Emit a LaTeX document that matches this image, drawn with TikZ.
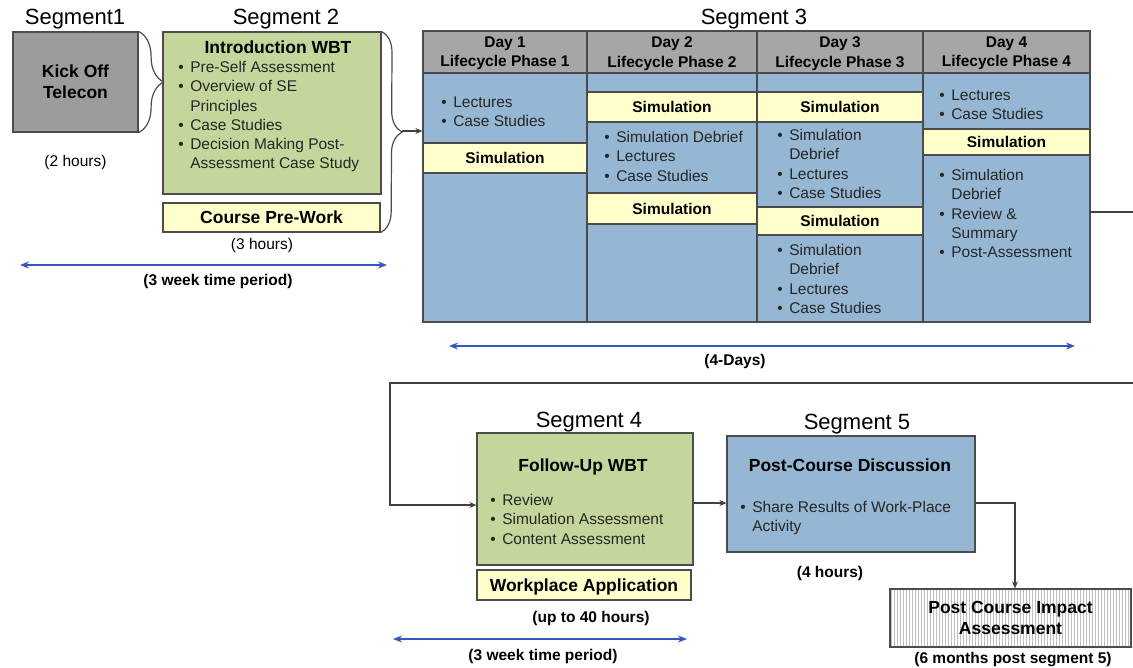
\documentclass[tikz,border=0pt]{standalone}
\usepackage{fontspec}
\setmainfont{Liberation Sans}
\usetikzlibrary{positioning,decorations.pathreplacing,patterns,arrows.meta}
\definecolor{kogray}{RGB}{156,156,156}
\definecolor{hdgray}{RGB}{166,166,166}
\definecolor{wbtgreen}{RGB}{196,214,155}
\definecolor{dayblue}{RGB}{149,183,211}
\definecolor{simyellow}{RGB}{255,255,204}
\definecolor{spanblue}{RGB}{52,86,190}
\newcommand{\blist}[1]{\begin{tabular}[t]{@{}l@{}l@{}}#1\end{tabular}}
\newcommand{\bi}{\hbox to 12pt{\textbullet\hss}&}

\begin{document}
\begin{tikzpicture}[x=1pt,y=-1pt,>={Stealth[length=7pt,width=6pt]},semithick,
  box/.style={rectangle,draw=black!70,line width=1.2pt,inner sep=0pt},
  ttl/.style={font=\fontsize{22}{26}\selectfont,text depth=0pt},
  head/.style={font=\fontsize{17.5}{21}\selectfont\bfseries,align=center,text depth=0pt},
  bold/.style={font=\fontsize{15.5}{19.25}\selectfont\bfseries,align=center,text depth=0pt},
  note/.style={font=\fontsize{15.5}{19}\selectfont,text depth=0pt},
  lst/.style={font=\fontsize{15.5}{19.25}\selectfont,text=black!85,inner sep=0pt,anchor=base west},
  span/.style={{Stealth[length=9pt,width=7pt]}-{Stealth[length=9pt,width=7pt]},draw=spanblue,line width=1.5pt},
  conn/.style={->,draw=black!75,line width=1.2pt},
  brc/.style={draw=black!70,line width=1.2pt,decorate,decoration={brace,amplitude=#1}}]
\useasboundingbox (0,0) rectangle (1133,667);

\node[ttl] (t1) at (75,17) {Segment1};
\node[ttl] (t2) at (286,17) {Segment 2};
\node[ttl] (t3) at (754,17) {Segment 3};
\node[ttl] (t4) at (589,420) {Segment 4};
\node[ttl] (t5) at (857,422) {Segment 5};

\node[box,fill=kogray,head,minimum width=125,minimum height=100] (ko) at (75.5,82) {Kick Off\\Telecon};
\node[note,below=19pt of ko] (koh) {(2 hours)};

\node[box,fill=wbtgreen,minimum width=218,minimum height=162] (wbt) at (272,113) {};
\node[head] (wbth) at (278,47) {Introduction WBT};
\node[lst] (wbtl) at (178,72.5) {\blist{\bi Pre-Self Assessment\\ \bi Overview of SE\\ & Principles\\ \bi Case Studies\\ \bi Decision Making Post-\\ & Assessment Case Study}};
\node[box,fill=simyellow,head,minimum width=217,minimum height=29] (pw) at (271.5,217.5) {Course Pre-Work};
\node[note] (pwh) at (262,244) {(3 hours)};

\draw[brc=25] (ko.north east) -- (ko.south east);
\draw[brc=21] (wbt.north east) -- (pw.south east);
\coordinate (tip2) at (402,131);

\coordinate (w1a) at (20,265);
\coordinate (w1b) at (387,265);
\draw[span] (w1a) -- (w1b);
\node[bold] (w1) at (218,280) {(3 week time period)};

\foreach \i/\xa/\xb in {1/423/587,2/587/757,3/757/923,4/923/1090}{
  \node[box,fill=hdgray,bold,minimum width={\xb-\xa},minimum height=42] (h\i) at ({(\xa+\xb)/2},52) {Day \i\\Lifecycle Phase \i};
  \node[box,fill=dayblue,minimum width={\xb-\xa},minimum height=249] (b\i) at ({(\xa+\xb)/2},197.5) {};
}
\draw[conn] (tip2) -- (tip2 -| b1.west);

\node[box,fill=simyellow,bold,minimum width=164,minimum height=30] (s1) at (505,158) {Simulation};
\node[box,fill=simyellow,bold,minimum width=170,minimum height=30] (s2a) at (672,107) {Simulation};
\node[box,fill=simyellow,bold,minimum width=170,minimum height=31] (s2b) at (672,208.5) {Simulation};
\node[box,fill=simyellow,bold,minimum width=166,minimum height=30] (s3a) at (840,107) {Simulation};
\node[box,fill=simyellow,bold,minimum width=166,minimum height=28] (s3b) at (840,221) {Simulation};
\node[box,fill=simyellow,bold,minimum width=167,minimum height=26] (s4) at (1006.5,142) {Simulation};

\node[lst] (l1) at (441,107.5) {\blist{\bi Lectures\\ \bi Case Studies}};
\node[lst] (l2) at (604,142.5) {\blist{\bi Simulation Debrief\\ \bi Lectures\\ \bi Case Studies}};
\node[lst] (l3a) at (777,140.5) {\blist{\bi Simulation\\ & Debrief\\ \bi Lectures\\ \bi Case Studies}};
\node[lst] (l3b) at (777,255.5) {\blist{\bi Simulation\\ & Debrief\\ \bi Lectures\\ \bi Case Studies}};
\node[lst] (l4a) at (939,100.5) {\blist{\bi Lectures\\ \bi Case Studies}};
\node[lst] (l4b) at (939,180.5) {\blist{\bi Simulation\\ & Debrief\\ \bi Review \&\\ & Summary\\ \bi Post-Assessment}};

\coordinate (w3a) at (449,346);
\coordinate (w3b) at (1075,346);
\draw[span] (w3a) -- (w3b);
\node[bold] (w3) at (735,360) {(4-Days)};

\node[box,fill=wbtgreen,minimum width=216,minimum height=132] (fu) at (585,499) {};
\node[head] (fuh) at (583,465) {Follow-Up WBT};
\node[lst] (ful) at (490,505.5) {\blist{\bi Review\\ \bi Simulation Assessment\\ \bi Content Assessment}};
\node[box,fill=simyellow,head,minimum width=214,minimum height=30] (wa) at (584,585) {Workplace Application};
\node[bold] (wah) at (591,617) {(up to 40 hours)};

\coordinate (w4a) at (393,639);
\coordinate (w4b) at (687,639);
\draw[span] (w4a) -- (w4b);
\node[bold] (w4) at (543,655) {(3 week time period)};

\node[box,fill=dayblue,minimum width=248,minimum height=116] (pc) at (851,494) {};
\node[head] (pch) at (850,465) {Post-Course Discussion};
\node[lst] (pcl) at (740,512) {\blist{\bi Share Results of Work-Place\\ & Activity}};
\node[bold] (pch2) at (830,572) {(4 hours)};

\node[box,pattern=vertical lines,pattern color=black!25,head,minimum width=241,minimum height=58] (ia) at (1010.5,618) {Post Course Impact\\Assessment};
\node[bold] (iah) at (1013,658) {(6 months post segment 5)};

\coordinate (r3) at (1133,212);
\draw[draw=black!75,line width=1.2pt] (b4.east |- r3) -- (r3);
\coordinate (r4) at (1133,383);
\coordinate (c4) at (390,383);
\draw[conn] (r4) -- (c4) |- ([yshift=-6pt]fu.west);
\draw[conn] ([yshift=-4pt]fu.east) -- ([yshift=-4pt]fu.east -| pc.west);
\draw[conn] ([yshift=-9pt]pc.east) -| ([xshift=4.5pt]ia.north);
\end{tikzpicture}
\end{document}
